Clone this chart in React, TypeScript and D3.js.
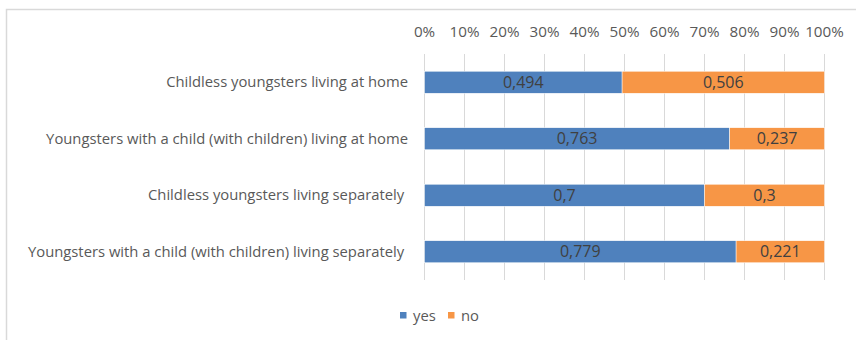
import React from "react";
import * as d3 from "d3";

const categories = [
  "Childless youngsters living at home",
  "Youngsters with a child (with children) living at home",
  "Childless youngsters living separately ",
  "Youngsters with a child (with children) living separately ",
];
const yesValues = [0.494, 0.763, 0.7, 0.779];
const noValues = [0.506, 0.237, 0.3, 0.221];
const seriesNames = ["yes", "no"];
const seriesColors = ["#4f81bd", "#f79646"];
const ticks = [0, 0.1, 0.2, 0.3, 0.4, 0.5, 0.6, 0.7, 0.8, 0.9, 1];

const W = 856;
const H = 340;
const FONT = "'Open Sans', sans-serif";
const FS = 14.8;

export default function App() {
  const x = d3.scaleLinear().domain([0, 1]).range([424.5, 824.5]);
  const y = d3.scaleBand().domain(categories).range([54, 280]).paddingInner(0.61).paddingOuter(0.305);
  const fmt = (v: number) => String(v).replace(".", ",");
  const rows = categories.map((c, i) => ({ c, vals: [yesValues[i], noValues[i]] }));

  return (
    <svg width={W} height={H} style={{ position: "absolute", left: 0, top: 0, fontFamily: FONT }}>
      <rect x={0} y={0} width={W} height={H} fill="#fff" />
      <rect x={6.5} y={9.5} width={860} height={340} fill="none" stroke="#d9d9d9" strokeWidth={1.5} />
      {ticks.map((t) => (
        <g key={t}>
          <line x1={x(t)} x2={x(t)} y1={54} y2={280} stroke="#d9d9d9" strokeWidth={1} />
          <text x={x(t)} y={37} textAnchor="middle" fontSize={15.2} fill="#595959">
            {d3.format(".0%")(t)}
          </text>
        </g>
      ))}
      {rows.map((r) => {
        let acc = 0;
        const by = y(r.c)!;
        const bh = y.bandwidth();
        return (
          <g key={r.c}>
            <text x={408} y={by + bh / 2 + 5} textAnchor="end" fontSize={FS} fill="#595959" style={{ whiteSpace: "pre" }}>
              {r.c}
            </text>
            {r.vals.map((v, j) => {
              const x0 = acc;
              acc += v;
              return (
                <g key={j}>
                  <rect x={x(x0)} y={by} width={x(x0 + v) - x(x0)} height={bh} fill={seriesColors[j]} stroke="#fff" strokeWidth={0.5} />
                  <text x={(x(x0) + x(x0 + v)) / 2} y={by + bh / 2 + 5.5} textAnchor="middle" fontSize={16} fill="#404040">
                    {fmt(v)}
                  </text>
                </g>
              );
            })}
          </g>
        );
      })}
      {seriesNames.map((s, i) => (
        <g key={s} transform={`translate(${i === 0 ? 400 : 448},312)`}>
          <rect x={0} y={0} width={6.5} height={6.5} fill={seriesColors[i]} />
          <text x={13} y={8.5} fontSize={FS} fill="#595959">{s}</text>
        </g>
      ))}
    </svg>
  );
}
